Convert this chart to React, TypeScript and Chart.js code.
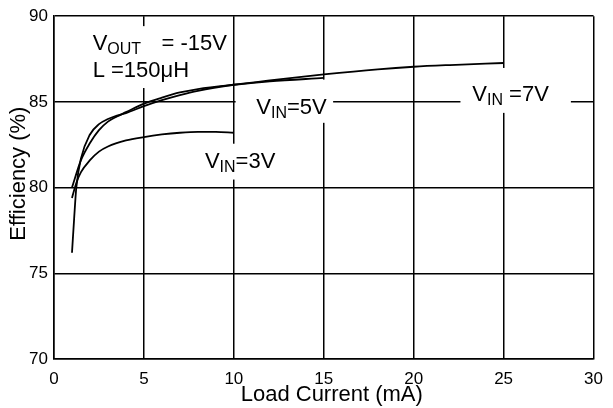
import React, { useEffect, useRef } from "react";
import { Chart, registerables } from "chart.js";

Chart.register(...registerables);

// ---- data ----
const xTickValues = [0, 5, 10, 15, 20, 25, 30];
const yTickValues = [70, 75, 80, 85, 90];

const vin3Current = [1.0, 1.25, 1.5, 2, 2.5, 3, 4, 5, 6, 7, 8, 9, 10];
const vin3Eff = [79.4, 80.3, 80.9, 81.6, 82.1, 82.4, 82.75, 82.95, 83.1, 83.2, 83.25, 83.25, 83.2];

const vin5Current = [1.0, 1.5, 2, 2.5, 3, 3.5, 4, 5, 6, 7, 8, 10, 12, 15];
const vin5Eff = [80.0, 81.6, 82.6, 83.35, 83.85, 84.15, 84.4, 84.9, 85.25, 85.55, 85.75, 86.0, 86.2, 86.4];

const vin7Current = [1.0, 1.12, 1.24, 1.5, 2, 2.5, 3, 3.5, 4, 5, 6, 7, 8, 10, 12, 15, 18, 20, 22, 25];
const vin7Eff = [76.2, 78.2, 80.0, 81.7, 83.1, 83.7, 84.0, 84.2, 84.35, 84.75, 85.1, 85.4, 85.65, 86.0, 86.25, 86.6, 86.9, 87.05, 87.15, 87.27];

const xTitle = "Load Current (mA)";
const yTitle = "Efficiency (%)";

const FONT = "'Liberation Sans', Arial, sans-serif";

type Part = { t: string; sub?: boolean };

function drawRich(ctx: CanvasRenderingContext2D, x: number, y: number, parts: Part[]) {
  let cx = x;
  ctx.textBaseline = "alphabetic";
  ctx.textAlign = "left";
  for (const p of parts) {
    ctx.font = p.sub ? `16px ${FONT}` : `22px ${FONT}`;
    ctx.fillText(p.t, cx, p.sub ? y + 4 : y);
    cx += ctx.measureText(p.t).width;
  }
}

const annotationPlugin = {
  id: "annotationPlugin",
  beforeDatasetsDraw(chart: any) {
    const { ctx, scales } = chart;
    const xs = scales.x;
    const ys = scales.y;
    // gaps in the grid behind the labels: [x1, x2, y1, y2] in data units
    const masks: number[][] = [
      [4.8, 5.2, 89.42, 85.81],
      [9.8, 10.2, 82.56, 80.47],
      [10.1, 15.52, 84.8, 85.2],
      [14.8, 15.2, 86.3, 83.78],
      [22.6, 28.74, 84.8, 85.2],
      [24.8, 25.2, 86.98, 84.36],
    ];
    ctx.save();
    ctx.fillStyle = "#ffffff";
    for (const m of masks) {
      const x1 = xs.getPixelForValue(m[0]);
      const x2 = xs.getPixelForValue(m[1]);
      const y1 = ys.getPixelForValue(m[2]);
      const y2 = ys.getPixelForValue(m[3]);
      ctx.fillRect(Math.min(x1, x2), Math.min(y1, y2), Math.abs(x2 - x1), Math.abs(y2 - y1));
    }
    ctx.restore();
  },
  afterDatasetsDraw(chart: any) {
    const { ctx, scales } = chart;
    const px = (v: number) => scales.x.getPixelForValue(v);
    const py = (v: number) => scales.y.getPixelForValue(v);
    ctx.save();
    ctx.fillStyle = "#000";
    drawRich(ctx, px(2.15), py(88.02), [{ t: "V" }, { t: "OUT", sub: true }]);
    drawRich(ctx, px(5.98), py(88.02), [{ t: "= -15V" }]);
    drawRich(ctx, px(2.15), py(86.45), [{ t: "L =150\u03bcH" }]);
    drawRich(ctx, px(11.25), py(84.28), [{ t: "V" }, { t: "IN", sub: true }, { t: "=5V" }]);
    drawRich(ctx, px(23.26), py(85.06), [{ t: "V" }, { t: "IN", sub: true }, { t: " =7V" }]);
    drawRich(ctx, px(8.39), py(81.16), [{ t: "V" }, { t: "IN", sub: true }, { t: "=3V" }]);

    // axis titles
    const area = chart.chartArea;
    ctx.font = `22px ${FONT}`;
    ctx.textAlign = "center";
    ctx.textBaseline = "alphabetic";
    ctx.fillText(xTitle, (area.left + area.right) / 2 + 8, area.bottom + 42);
    ctx.translate(25, (area.top + area.bottom) / 2 - 14);
    ctx.rotate(-Math.PI / 2);
    ctx.fillText(yTitle, 0, 0);
    ctx.restore();
  },
};

export default function App() {
  const canvasRef = useRef<HTMLCanvasElement | null>(null);

  useEffect(() => {
    const canvas = canvasRef.current;
    if (!canvas) return;
    const toXY = (xs: number[], ys: number[]) => xs.map((x, i) => ({ x, y: ys[i] }));
    const lineStyle = {
      borderColor: "#000",
      borderWidth: 1.8,
      pointRadius: 0,
      fill: false,
      cubicInterpolationMode: "monotone" as const,
    };
    const chart = new Chart(canvas, {
      type: "line",
      data: {
        datasets: [
          { label: "VIN=3V", data: toXY(vin3Current, vin3Eff), ...lineStyle },
          { label: "VIN=5V", data: toXY(vin5Current, vin5Eff), ...lineStyle },
          { label: "VIN=7V", data: toXY(vin7Current, vin7Eff), ...lineStyle },
        ],
      },
      options: {
        animation: false,
        responsive: true,
        maintainAspectRatio: false,
        layout: { padding: { top: 15, right: 12, left: 0, bottom: 0 } },
        plugins: { legend: { display: false }, tooltip: { enabled: false } },
        scales: {
          x: {
            type: "linear",
            min: 0,
            max: 30,
            afterBuildTicks: (scale: any) => {
              scale.ticks = xTickValues.map((v) => ({ value: v }));
            },
            afterFit: (scale: any) => {
              scale.height = 49;
            },
            ticks: {
              color: "#000",
              font: { family: FONT, size: 17 },
              padding: 10,
              autoSkip: false,
              maxRotation: 0,
            },
            grid: { color: "#000", lineWidth: 1.5, drawTicks: false },
            border: { display: true, color: "#000", width: 1.5 },
            title: { display: false },
          },
          y: {
            type: "linear",
            min: 70,
            max: 90,
            afterBuildTicks: (scale: any) => {
              scale.ticks = yTickValues.map((v) => ({ value: v }));
            },
            afterFit: (scale: any) => {
              scale.width = 54;
            },
            ticks: {
              color: "#000",
              font: { family: FONT, size: 17 },
              padding: 6,
              autoSkip: false,
            },
            grid: { color: "#000", lineWidth: 1.5, drawTicks: false },
            border: { display: true, color: "#000", width: 1.5 },
            title: { display: false },
          },
        },
      },
      plugins: [annotationPlugin],
    });
    return () => chart.destroy();
  }, []);

  return (
    <div style={{ position: "fixed", left: 0, top: 0, width: 613, height: 408, background: "#fff" }}>
      <canvas ref={canvasRef} />
    </div>
  );
}
